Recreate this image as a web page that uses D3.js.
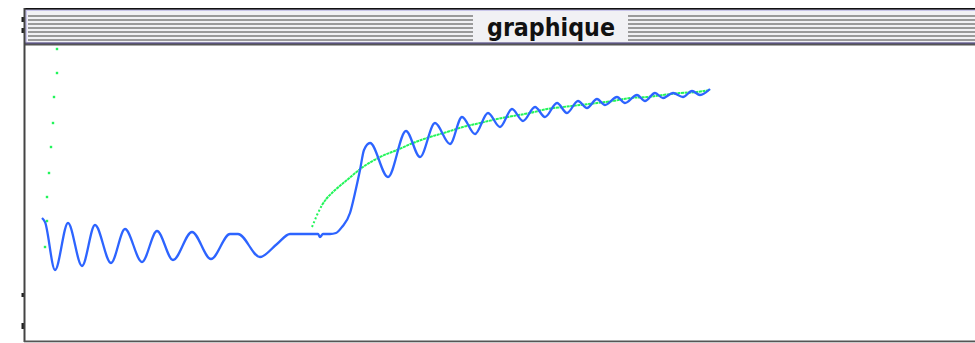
<!DOCTYPE html>
<html>
<head>
<meta charset="utf-8">
<script src="https://cdn.jsdelivr.net/npm/d3@7"></script>
<style>
  html, body { margin: 0; padding: 0; background: #ffffff; }
  svg { display: block; }
</style>
</head>
<body>
<div id="chart"></div>
<script>
// Window title
const titleText = "graphique";

// Blue signal: damped oscillation, then a step and a second oscillation (x, y)
const blueCurve = [
    [17, 122], [20, 118], [30, 70], [43, 117], [57, 74], [70, 115], [86, 77],
    [100, 111], [117, 78], [132, 109], [148, 80], [167, 108], [186, 81],
    [205, 106], [213, 106], [235, 83], [252, 96], [265, 106], [293, 106],
    [295, 103], [298, 106], [305, 106], [311, 107], [317, 113], [325, 127],
    [330, 147], [335, 170], [339, 190], [345, 197], [363, 163], [381, 209],
    [395, 183], [410, 217], [425, 196], [437, 223], [450, 206], [463, 227],
    [475, 213], [487, 231], [498, 219], [510, 233], [520, 223], [532, 237],
    [542, 227], [553, 239], [562, 232], [572, 241], [580, 235], [592, 243],
    [600, 237], [612, 245], [620, 239], [630, 247], [638, 242], [648, 247],
    [658, 243], [667, 249], [675, 245], [685, 251]
];

// Green reference curve: sparse start, then the dense part
const greenStart = [[287, 113], [292, 125], [297, 135]];
const greenCurve = [
    [297, 135], [302, 142], [308, 148], [322, 160], [338, 173], [355, 183],
    [372, 190], [388, 197], [405, 203], [422, 208], [438, 213], [455, 217],
    [472, 221], [488, 224], [505, 227], [522, 231], [538, 233], [555, 235],
    [572, 237], [588, 239], [605, 242], [622, 243], [638, 245], [655, 247],
    [672, 248], [685, 250]
];

// Isolated green points near the left edge
const greenLeftDots = [
    [32, 291], [32, 267], [29, 243], [28, 217], [26, 193], [24, 167],
    [22, 143], [22, 119], [20, 93]
];

const width = 975, height = 343;

const svg = d3.select("#chart")
    .append("svg")
    .attr("width", width)
    .attr("height", height);

// Plot area inside the window
const x = d3.scaleLinear().domain([0, 950]).range([25, 975]);
const y = d3.scaleLinear().domain([0, 295]).range([340, 45]);

/**
 * Draws the old style window frame with its striped title bar.
 */
function drawWindow() {
    // bits of something behind the window, at the left
    [[17, 5], [28, 5], [293, 4], [323, 6]].forEach(([top, h]) => {
        svg.append("rect")
            .attr("x", 21.5).attr("y", top)
            .attr("width", 2.5).attr("height", h)
            .attr("fill", "#222");
    });

    // content background
    svg.append("rect")
        .attr("x", 25).attr("y", 45)
        .attr("width", width - 25).attr("height", 296)
        .attr("fill", "#ffffff");

    // title bar
    svg.append("rect")
        .attr("x", 25).attr("y", 9)
        .attr("width", width - 25).attr("height", 35)
        .attr("fill", "#c9c6ea");
    svg.append("rect")
        .attr("x", 27).attr("y", 11)
        .attr("width", width - 27).attr("height", 31)
        .attr("fill", "#f1f1f4");

    // stripes, left and right of the title
    const stripes = d3.range(7).map(i => 15 + i * 4);
    [[28, 473], [628, width]].forEach(([x0, x1]) => {
        svg.selectAll(null)
            .data(stripes)
            .enter().append("rect")
            .attr("x", x0).attr("y", d => d)
            .attr("width", x1 - x0).attr("height", 2)
            .attr("fill", "#9a9a9a");
    });

    svg.append("text")
        .attr("x", 551)
        .attr("y", 35.5)
        .attr("text-anchor", "middle")
        .attr("font-family", "'DejaVu Sans Condensed', 'DejaVu Sans', sans-serif")
        .attr("font-weight", "bold")
        .attr("font-size", 25)
        .attr("textLength", 128)
        .attr("lengthAdjust", "spacingAndGlyphs")
        .attr("fill", "#111")
        .text(titleText);

    // frame lines
    svg.append("rect").attr("x", 24).attr("y", 8).attr("width", width - 24).attr("height", 1.6).attr("fill", "#111");
    svg.append("rect").attr("x", 25).attr("y", 42.5).attr("width", width - 25).attr("height", 1.5).attr("fill", "#5a5478");
    svg.append("rect").attr("x", 25).attr("y", 44).attr("width", width - 25).attr("height", 1.5).attr("fill", "#555");
    svg.append("rect").attr("x", 23.5).attr("y", 8).attr("width", 2).attr("height", 334).attr("fill", "#444");
    svg.append("rect").attr("x", 24).attr("y", 340.5).attr("width", width - 24).attr("height", 1.8).attr("fill", "#555");
}

/**
 * Draws the two curves and the loose green points.
 */
function drawCurves() {
    const line = d3.line()
        .x(d => x(d[0]))
        .y(d => y(d[1]))
        .curve(d3.curveMonotoneX);

    svg.append("path")
        .datum(greenStart)
        .attr("d", d3.line().x(d => x(d[0])).y(d => y(d[1])))
        .attr("fill", "none")
        .attr("stroke", "#22f55a")
        .attr("stroke-width", 2)
        .attr("stroke-dasharray", "2,2.2");

    svg.append("path")
        .datum(greenCurve)
        .attr("d", line)
        .attr("fill", "none")
        .attr("stroke", "#22f55a")
        .attr("stroke-width", 2)
        .attr("stroke-dasharray", "3,0.6");

    svg.append("path")
        .datum(blueCurve)
        .attr("d", line)
        .attr("fill", "none")
        .attr("stroke", "#2d64ff")
        .attr("stroke-width", 2.3)
        .attr("stroke-linejoin", "round");

    svg.selectAll(".dot")
        .data(greenLeftDots)
        .enter().append("rect")
        .attr("class", "dot")
        .attr("x", d => x(d[0]) - 1.2)
        .attr("y", d => y(d[1]) - 1.2)
        .attr("width", 2.4)
        .attr("height", 2.4)
        .attr("fill", "#22f55a");
}

drawWindow();
drawCurves();
</script>
</body>
</html>
